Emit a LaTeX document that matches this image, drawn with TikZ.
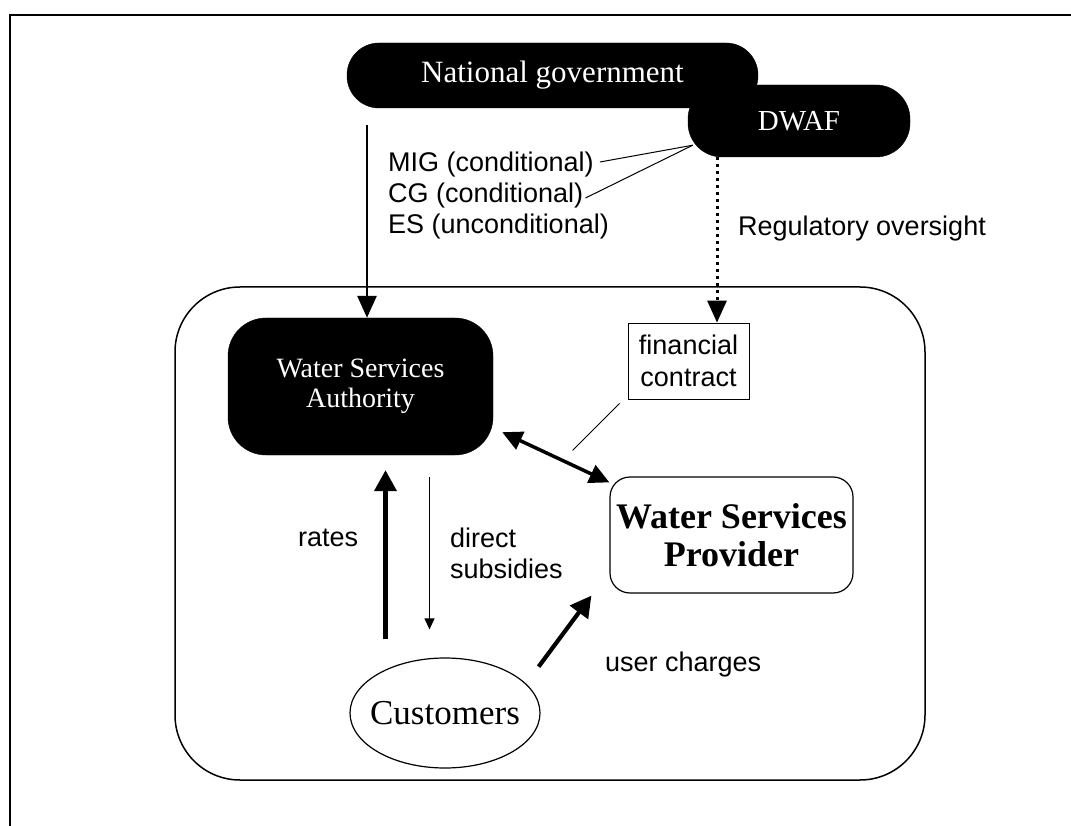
\documentclass[tikz,border=0pt]{standalone}
\usepackage{fontspec}
\setmainfont{Liberation Serif}
\setsansfont{Liberation Sans}
\usetikzlibrary{arrows.meta,shapes.geometric}
\begin{document}
\begin{tikzpicture}[x=1pt,y=-1pt,
  frame/.style={draw=black, line width=1.5pt},
  pill/.style={fill=black, draw=black, text=white, inner sep=0pt, align=center},
  whitebox/.style={draw=black, fill=white, inner sep=0pt, align=center},
  lbl/.style={font=\sffamily\fontsize{27}{31}\selectfont, inner sep=0pt, align=left},
  thinline/.style={draw=black, line width=1pt},
  medarr/.style={draw=black, line width=2.8pt, -{Triangle[length=22pt,width=19pt]}},
  thickarr/.style={draw=black, line width=4.2pt, -{Triangle[length=21pt,width=22pt]}},
  dblarr/.style={draw=black, line width=3.5pt, {Triangle[length=20pt,width=19pt]}-{Triangle[length=20pt,width=19pt]}},
  thinarr/.style={draw=black, line width=1.1pt, -{Triangle[length=11pt,width=10pt]}},
  dotarr/.style={draw=black, line width=3pt, dash pattern=on 3pt off 4pt, -{Triangle[length=22pt,width=19pt]}}
]
\useasboundingbox (0,0) rectangle (1071,826);
% outer frame and inner region
\draw[frame] (10,826) -- (10,15) -- (1071,15);
\draw[frame, rounded corners=65pt] (175,287) rectangle (925,780);

% top bodies
\node[pill, rounded corners=34pt, minimum width=222pt, minimum height=72pt,
      font=\fontsize{29}{31}\selectfont] (dwaf) at (799,121) {DWAF};
\node[pill, rounded corners=32pt, minimum width=411pt, minimum height=65pt,
      font=\fontsize{31}{33}\selectfont] (natgov) at (552.5,75.5) {National government};

% inner nodes
\node[pill, rounded corners=38pt, minimum width=265pt, minimum height=137pt,
      font=\fontsize{28}{30}\selectfont] (wsa) at (360.5,386.5) {Water Services\\Authority};
\node[whitebox, line width=1.2pt, rounded corners=20pt, minimum width=243pt, minimum height=116pt,
      font=\bfseries\fontsize{36}{38}\selectfont] (wsp) at (731.5,535) {Water Services\\Provider};
\node[whitebox, line width=0.8pt, minimum width=121pt, minimum height=76pt,
      font=\sffamily\fontsize{27}{32}\selectfont] (fin) at (688.5,361) {financial\\contract};
\node[ellipse, draw=black, line width=1.2pt, inner xsep=-8pt, inner ysep=0pt,
      minimum width=190pt, minimum height=110pt,
      font=\fontsize{35}{37}\selectfont] (cust) at (445,713) {Customers};

% labels
\node[lbl, anchor=west] (mig) at (388,165) {MIG (conditional)};
\node[lbl, anchor=west] (cg) at (388,196) {CG (conditional)};
\node[lbl, anchor=west] (es) at (388,227) {ES (unconditional)};
\node[lbl, anchor=west] (reg) at (738,229) {Regulatory oversight};
\node[lbl, anchor=west] (rates) at (298,538) {rates};
\node[lbl, anchor=west] (dsub) at (450,553) {direct\\subsidies};
\node[lbl, anchor=west] (uc) at (605,665) {user charges};

% connectors
\coordinate (nx) at ([xshift=6.5pt]wsa.north);
\coordinate (ntop) at (nx |- natgov.south);
\draw[medarr] ([yshift=-17pt]ntop) -- (nx);

\coordinate (dw) at ([xshift=5pt,yshift=12pt]dwaf.south west);
\draw[thinline] (dw) -- ([xshift=6pt,yshift=3pt]mig.east);
\draw[thinline] (dw) -- ([xshift=2pt,yshift=-2pt]cg.east);

\coordinate (ft) at ([xshift=28.5pt]fin.north);
\draw[dotarr] (dwaf.south -| ft) -- (ft);

\coordinate (fl) at ([xshift=-55pt,yshift=-51pt]fin.south west);
\draw[thinline] ([xshift=-8pt,yshift=-4pt]fin.south west) -- (fl);

\draw[dblarr] ([xshift=9pt,yshift=23pt]wsa.south east) -- ([yshift=-6pt]wsp.north west);

\coordinate (rx) at ([xshift=25pt]wsa.south);
\draw[thickarr, shorten <=18pt, shorten >=15pt] (cust.north -| rx) -- (rx);

\coordinate (sx) at ([xshift=69pt]wsa.south);
\draw[thinarr, shorten <=22pt, shorten >=28pt] (sx) -- (cust.north -| sx);

\draw[thickarr] ([xshift=26pt,yshift=7pt]cust.north east) -- ([xshift=-18pt,yshift=-2pt]wsp.south west);
\end{tikzpicture}
\end{document}
